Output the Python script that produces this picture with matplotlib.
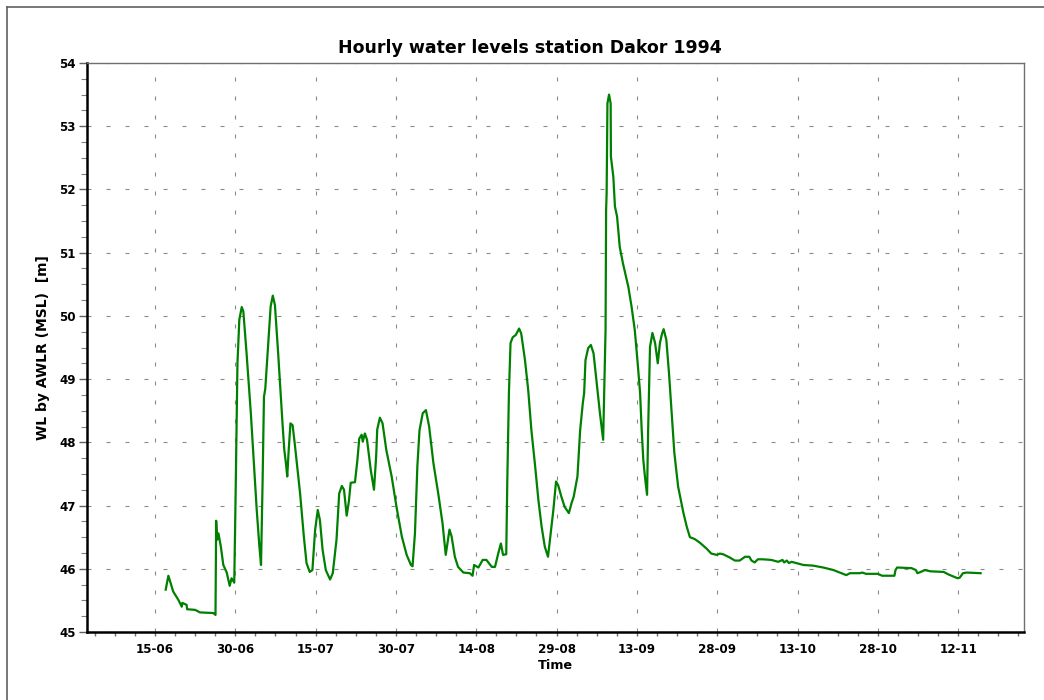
import matplotlib
matplotlib.use('Agg')
import matplotlib.pyplot as plt
import matplotlib.dates as mdates
from matplotlib.lines import Line2D
import numpy as np
import pandas as pd

# ---------------- data ----------------
start_date = '1994-06-15'
# days since 15-06-1994 00:00
days = [2.0, 2.5, 3.4, 4.35, 5.0, 5.1, 5.9, 6.0, 7.5, 8.4, 10.9, 11.3, 11.42, 11.6, 11.85,
        12.3, 12.76, 13.4, 13.95, 14.3, 14.8, 15.06, 15.4, 15.75, 16.2, 16.5, 17.1, 17.9,
        18.35, 19.0, 19.5, 19.8, 20.1, 20.35, 20.6, 21.1, 21.6, 22.0, 22.4, 23.0, 23.5,
        23.85, 24.15, 24.45, 24.7, 24.95, 25.3, 25.7, 26.1, 27.1, 27.8, 28.3, 28.9, 29.4,
        29.9, 30.4, 30.8, 31.3, 31.9, 32.7, 33.2, 33.9, 34.4, 34.9, 35.3, 35.8, 36.2, 36.55,
        37.35, 37.8, 38.15, 38.6, 38.8, 39.2, 39.6, 40.3, 40.9, 41.3, 41.5, 42.0, 42.5, 43.2,
        44.2, 45.1, 46.1, 47.0, 47.8, 48.1, 48.55, 49.0, 49.4, 50.0, 50.6, 51.2, 52.0, 52.9,
        53.7, 54.3, 55.0, 55.4, 56.0, 56.6, 57.6, 58.8, 59.3, 59.6, 60.4, 61.2, 61.9, 62.9,
        63.5, 64.1, 64.6, 65.0, 65.6, 65.8, 66.1, 66.4, 66.8, 67.4, 68.0, 68.4, 69.1, 69.7,
        70.3, 71.0, 71.6, 72.2, 72.8, 73.4, 73.9, 74.4, 74.9, 75.3, 75.9, 76.5, 77.3, 77.8,
        78.2, 78.9, 79.4, 79.9, 80.15, 80.4, 80.9, 81.4, 81.9, 82.5, 83.1, 83.7, 83.95, 84.15,
        84.25, 84.35, 84.5, 84.8, 85.1, 85.15, 85.6, 85.9, 86.3, 86.8, 87.4, 88.4, 89.0, 89.6,
        90.1, 90.6, 90.9, 91.2, 91.5, 91.9, 92.1, 92.3, 92.45, 92.9, 93.4, 93.9, 94.3, 94.7,
        95.0, 95.5, 96.0, 96.5, 97.0, 97.7, 98.7, 99.3, 99.9, 100.8, 101.8, 103.0, 103.9,
        104.9, 105.5, 106.1, 107.3, 108.3, 109.2, 110.2, 111.0, 111.4, 112.0, 112.6, 113.5,
        115.1, 116.4, 117.2, 117.5, 118.0, 118.4, 118.9, 121.1, 122.9, 124.8, 126.7, 128.2,
        129.1, 129.8, 131.6, 132.1, 132.8, 135.0, 135.8, 138.1, 138.3, 138.6, 141.3, 142.1,
        142.4, 143.0, 143.8, 144.8, 147.3, 148.2, 149.9, 150.3, 150.9, 151.6, 154.2]
levels = [45.67, 45.89, 45.64, 45.51, 45.40, 45.46, 45.43, 45.36, 45.35, 45.31, 45.30, 45.27,
          46.76, 46.46, 46.56, 46.35, 46.06, 45.94, 45.73, 45.85, 45.78, 47.19, 49.25, 49.94,
          50.14, 50.07, 49.41, 48.46, 47.83, 46.93, 46.35, 46.06, 47.40, 48.72, 48.85, 49.51,
          50.15, 50.32, 50.17, 49.41, 48.72, 48.25, 47.88, 47.67, 47.46, 47.85, 48.30, 48.27,
          47.98, 47.19, 46.51, 46.09, 45.95, 45.98, 46.61, 46.93, 46.77, 46.30, 45.98, 45.83,
          45.93, 46.46, 47.19, 47.31, 47.25, 46.84, 47.06, 47.36, 47.37, 47.72, 48.06, 48.12,
          48.01, 48.14, 48.04, 47.56, 47.25, 47.77, 48.20, 48.39, 48.30, 47.88, 47.46, 46.98,
          46.51, 46.22, 46.06, 46.04, 46.56, 47.62, 48.19, 48.46, 48.51, 48.25, 47.67, 47.19,
          46.72, 46.22, 46.62, 46.51, 46.19, 46.03, 45.94, 45.93, 45.89, 46.06, 46.02, 46.14,
          46.14, 46.03, 46.03, 46.24, 46.40, 46.22, 46.23, 47.40, 48.78, 49.57, 49.66, 49.70,
          49.80, 49.72, 49.30, 48.83, 48.19, 47.62, 47.09, 46.67, 46.35, 46.19, 46.56, 46.93,
          47.38, 47.32, 47.14, 46.98, 46.88, 47.04, 47.14, 47.46, 48.19, 48.62, 48.78, 49.30,
          49.49, 49.54, 49.41, 48.93, 48.46, 48.04, 48.99, 49.78, 51.67, 51.94, 53.36, 53.50,
          53.36, 52.52, 52.20, 51.73, 51.57, 51.09, 50.83, 50.46, 50.15, 49.78, 49.30, 48.78,
          48.19, 47.72, 47.46, 47.17, 48.19, 48.99, 49.51, 49.73, 49.57, 49.25, 49.57, 49.72,
          49.79, 49.62, 49.09, 48.46, 47.83, 47.30, 46.88, 46.67, 46.50, 46.47, 46.41, 46.32,
          46.24, 46.22, 46.24, 46.23, 46.18, 46.13, 46.13, 46.19, 46.19, 46.13, 46.10, 46.15,
          46.15, 46.14, 46.11, 46.14, 46.10, 46.13, 46.09, 46.11, 46.06, 46.05, 46.02, 45.98,
          45.93, 45.90, 45.93, 45.93, 45.94, 45.92, 45.92, 45.89, 45.89, 45.98, 46.02, 46.01,
          45.98, 45.93, 45.95, 45.98, 45.96, 45.95, 45.91, 45.85, 45.86, 45.93, 45.94, 45.93]
tick_labels = ['15-06', '30-06', '15-07', '30-07', '14-08', '29-08', '13-09',
               '28-09', '13-10', '28-10', '12-11']
y_ticks = [45, 46, 47, 48, 49, 50, 51, 52, 53, 54]
title = 'Hourly water levels station Dakor 1994'
xlabel = 'Time'
ylabel = 'WL by AWLR (MSL)  [m]'

# ---------------- plot ----------------
plt.rcParams['font.family'] = ['DejaVu Sans']
plt.rcParams['font.weight'] = 'bold'

W, H = 1044, 700
fig = plt.figure(figsize=(W / 100, H / 100), dpi=100)
L, R, T, B = 87, 1024, 63, 632
ax = fig.add_axes([L / W, 1 - B / H, (R - L) / W, (B - T) / H])

start = pd.Timestamp(start_date)
times = start + pd.to_timedelta(days, unit='D')
ax.plot(times.to_pydatetime(), levels, color='#008000', lw=1.6, solid_joinstyle='round')

x0 = start - pd.Timedelta(days=12.7)
x1 = start + pd.Timedelta(days=162.3)
ax.set_xlim(x0.to_pydatetime(), x1.to_pydatetime())
ax.set_ylim(y_ticks[0], y_ticks[-1])

major = pd.date_range(start, periods=len(tick_labels), freq='15D')
ax.set_xticks(mdates.date2num(major.to_pydatetime()))
ax.set_xticklabels(tick_labels)
minor = pd.date_range(start - pd.Timedelta(hours=270), x1, freq='90h')
ax.set_xticks(mdates.date2num(minor.to_pydatetime()), minor=True)
ax.set_yticks(y_ticks)
ax.set_yticks(np.arange(y_ticks[0], y_ticks[-1] + 0.001, 0.25), minor=True)

ax.tick_params(axis='x', which='both', direction='out', length=3, width=1,
               color='#707070', labelsize=8.6, pad=5)
ax.tick_params(axis='y', which='major', direction='out', length=6, width=1,
               color='#606060', labelsize=8.6, pad=2)
ax.tick_params(axis='y', which='minor', direction='out', length=4, width=0.8,
               color='#808080')
for lab in ax.get_xticklabels() + ax.get_yticklabels():
    lab.set_fontweight('bold')

ax.grid(True, which='major', axis='both', color='#8a8a8a', lw=0.8,
        linestyle=(0, (3.6, 13.5)))
ax.set_axisbelow(True)

for s in ['left', 'bottom']:
    ax.spines[s].set_color('black')
    ax.spines[s].set_linewidth(1.8)
for s in ['top', 'right']:
    ax.spines[s].set_color('#707070')
    ax.spines[s].set_linewidth(1.0)

ax.set_title(title, fontsize=12.5, fontweight='bold', pad=7, x=(530 - L) / (R - L))
ax.set_xlabel(xlabel, fontsize=9.2, fontweight='bold', labelpad=2)
ax.set_ylabel(ylabel, fontsize=10, fontweight='bold', labelpad=7)

# outer figure frame (left and top)
fx = 7 / W
fy = 1 - 7 / H
fig.add_artist(Line2D([fx, fx], [0, fy], transform=fig.transFigure, color='#606060', lw=1.2))
fig.add_artist(Line2D([fx, 1], [fy, fy], transform=fig.transFigure, color='#606060', lw=1.2))

fig.savefig('out.png', dpi=100, facecolor='white')
